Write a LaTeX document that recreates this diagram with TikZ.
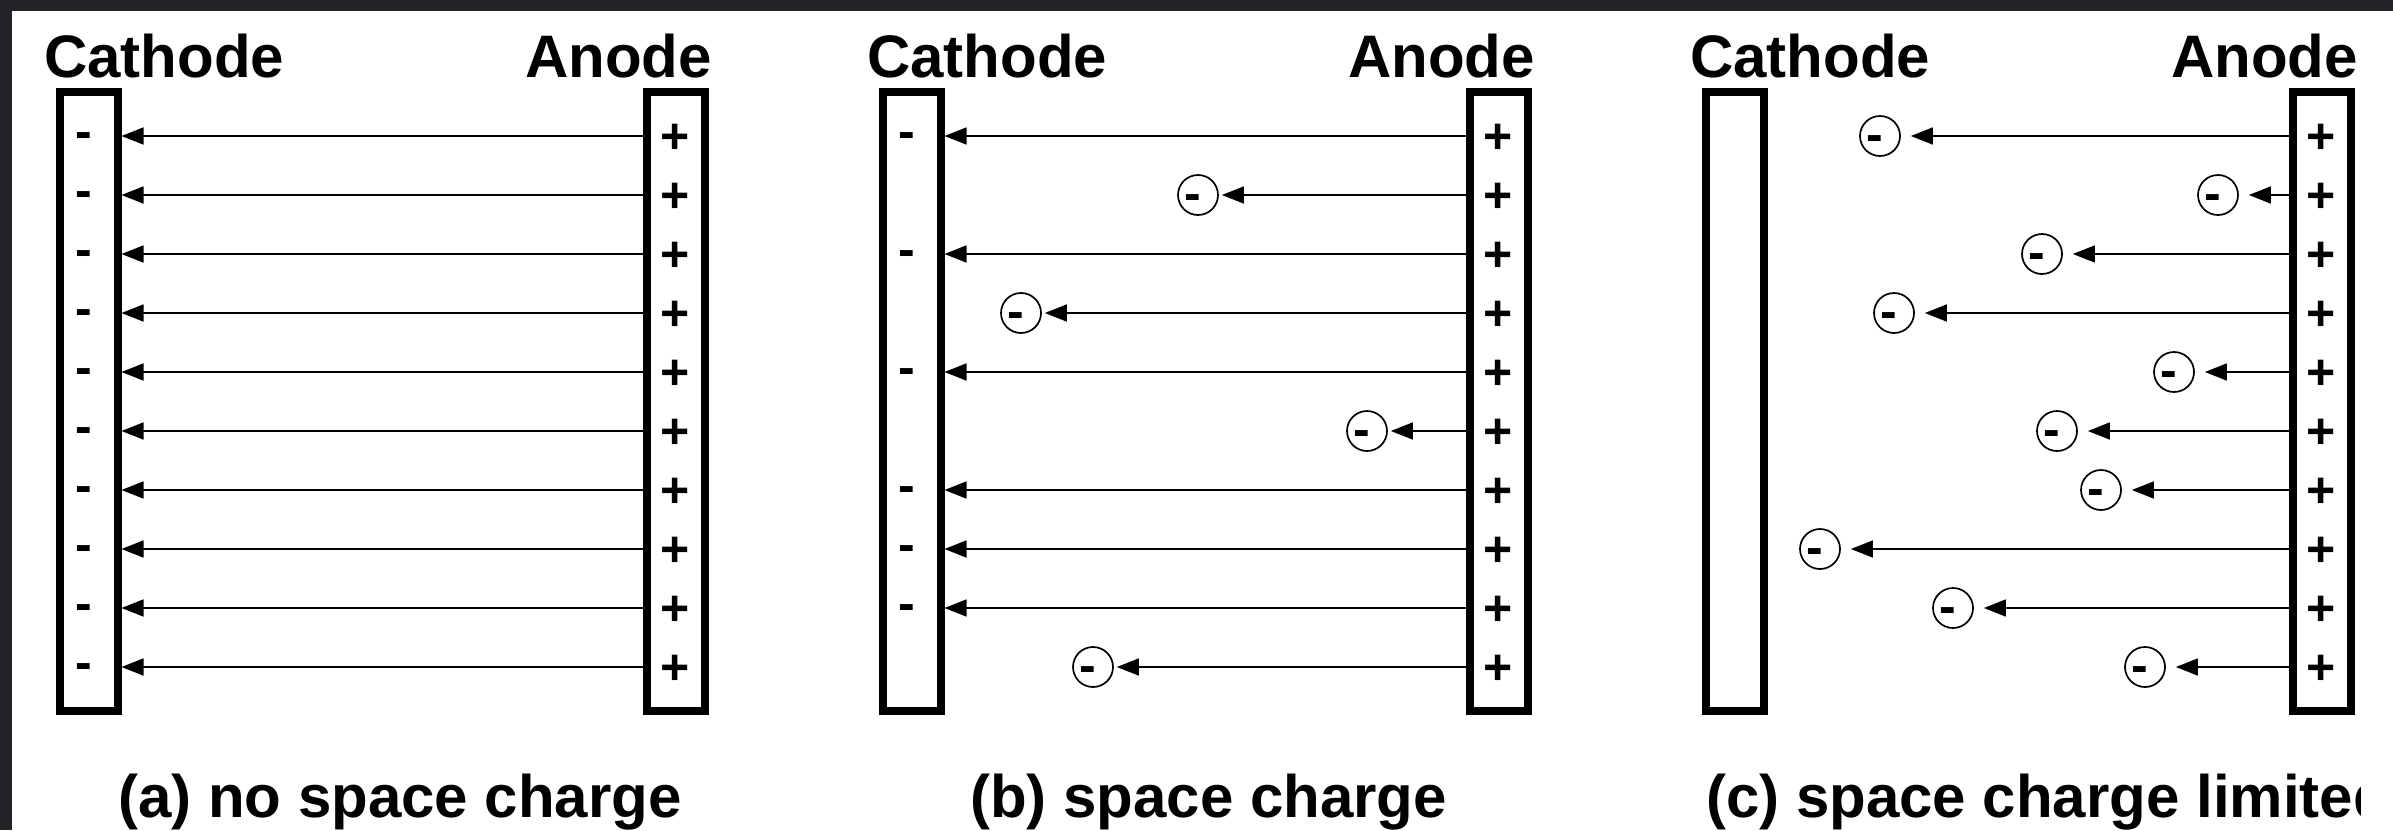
\documentclass[tikz,border=0pt]{standalone}
\usepackage{fontspec}
\setmainfont{Liberation Sans}
\usetikzlibrary{arrows.meta,calc}
\definecolor{frameclr}{RGB}{34,35,39}
\tikzset{
  plate/.style={draw, line width=8pt, rectangle, minimum width=58pt, minimum height=619pt, inner sep=0pt},
  head/.style={font=\fontsize{60}{72}\selectfont\bfseries, inner sep=0pt},
  caption/.style={font=\fontsize{60}{72}\selectfont\bfseries, inner sep=0pt, anchor=base west},
  plussign/.style={font=\fontsize{50}{60}\selectfont\bfseries, inner sep=0pt, anchor=base, yshift=-17.5pt},
  minussign/.style={font=\fontsize{50}{60}\selectfont\bfseries, inner sep=0pt, anchor=base, yshift=-12.5pt},
  electron/.style={draw, circle, line width=1.7pt, minimum size=40pt, inner sep=0pt},
  field/.style={line width=1.5pt, -{Triangle[length=22pt,width=17pt]}},
}
\begin{document}
\begin{tikzpicture}[x=1pt,y=-1pt]
\fill[white] (0,0) rectangle (2393,830);
\fill[frameclr] (0,0) rectangle (2393,11);
\fill[frameclr] (0,0) rectangle (12,830);
\useasboundingbox (0,0) rectangle (2393,830);

% rows
\foreach \i in {0,...,9} {
  \coordinate (r\i) at (0,{136+59*\i});
}

% panels
\foreach \p/\o in {a/0, b/823, c/1646} {
  \node[plate] (cat-\p) at ({88.5+\o},401.5) {};
  \node[plate] (an-\p) at ({675.5+\o},401.5) {};
  \node[head, anchor=base west] (tc-\p) at ({44+\o},77) {Cathode};
  \node[head, anchor=base east] (ta-\p) at ({712+\o},77) {Anode};
  \foreach \i in {0,...,9} {
    \node[plussign] (plus-\p\i) at ({675.5+\o},{136+59*\i}) {+};
  }
}

% (a) no space charge
\foreach \i in {0,...,9} {
  \node[minussign] (min-a\i) at (84,{136+59*\i}) {-};
  \draw[field] (an-a.west |- r\i) -- (cat-a.east |- r\i);
}
\node[caption] (cap-a) at (118,817) {(a) no space charge};

% (b) space charge
\foreach \i in {0,2,4,6,7,8} {
  \node[minussign] (min-b\i) at (907,{136+59*\i}) {-};
  \draw[field] (an-b.west |- r\i) -- (cat-b.east |- r\i);
}
\foreach \i/\x in {1/1198, 3/1021, 5/1367, 9/1093} {
  \node[electron] (eb\i) at (\x,{136+59*\i}) {};
  \node[minussign] (emb\i) at ($(eb\i.center)+(-5,3)$) {-};
  \draw[field, shorten >=3pt] (an-b.west |- r\i) -- (eb\i.east);
}
\node[caption] (cap-b) at (970,817) {(b) space charge};

% (c) space charge limited
\foreach \i/\x in {0/1880, 1/2218, 2/2042, 3/1894, 4/2174, 5/2057, 6/2101, 7/1820, 8/1953, 9/2145} {
  \node[electron] (ec\i) at (\x,{136+59*\i}) {};
  \node[minussign] (emc\i) at ($(ec\i.center)+(-5,3)$) {-};
  \draw[field, shorten >=10pt] (an-c.west |- r\i) -- (ec\i.east);
}
\begin{scope}
  \clip (1650,740) rectangle (2360,830);
  \node[caption] (cap-c) at (1706,817) {(c) space charge limited};
\end{scope}
\end{tikzpicture}
\end{document}
